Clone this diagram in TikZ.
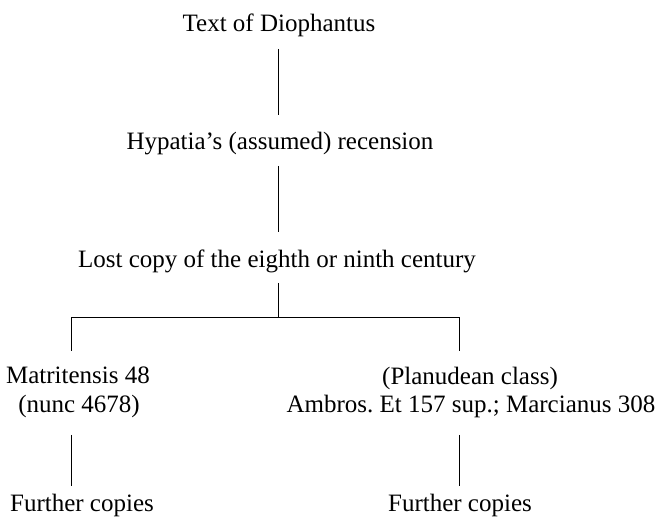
\documentclass[tikz,border=0pt]{standalone}
\usepackage{fontspec}
\setmainfont{Liberation Serif}
\frenchspacing
\begin{document}
\begin{tikzpicture}[x=1pt,y=-1pt,
  lbl/.style={anchor=base,inner sep=0pt,font=\fontsize{25}{29}\selectfont},
  conn/.style={line width=1pt,black}]
\useasboundingbox[fill=white] (0,0) rectangle (657,521);
% texts
\node[lbl] (t1) at (279,32) {Text of Diophantus};
\node[lbl] (t2) at (280,150) {Hypatia’s (assumed) recension};
\node[lbl] (t3) at (277,268) {Lost copy of the eighth or ninth century};
\node[lbl] (m1) at (78,384) {Matritensis 48};
\node[lbl] (m2) at (79,413) {(nunc 4678)};
\node[lbl] (p1) at (470,385) {(Planudean class)};
\node[lbl] (p2) at (471,413) {Ambros.\ Et 157 sup.; Marcianus 308};
\node[lbl] (f1) at (82,512) {Further copies};
\node[lbl] (f2) at (460,512) {Further copies};
% connector end points
\coordinate (a1) at (278,49);
\coordinate (a2) at (278,115);
\coordinate (b1) at (278,166);
\coordinate (b2) at (278,232);
\coordinate (c1) at (278,283);
\coordinate (c2) at (278,318);
\coordinate (jl) at (71,318);
\coordinate (jr) at (459,318);
\coordinate (dl) at (71,351);
\coordinate (dr) at (459,351);
\coordinate (el1) at (71,435);
\coordinate (el2) at (71,486);
\coordinate (er1) at (459,435);
\coordinate (er2) at (459,486);
% connectors
\draw[conn] (a1) -- (a2);
\draw[conn] (b1) -- (b2);
\draw[conn] (c1) -- (c2);
\draw[conn] (dl) -- (jl) -- (jr) -- (dr);
\draw[conn] (el1) -- (el2);
\draw[conn] (er1) -- (er2);
\end{tikzpicture}
\end{document}
